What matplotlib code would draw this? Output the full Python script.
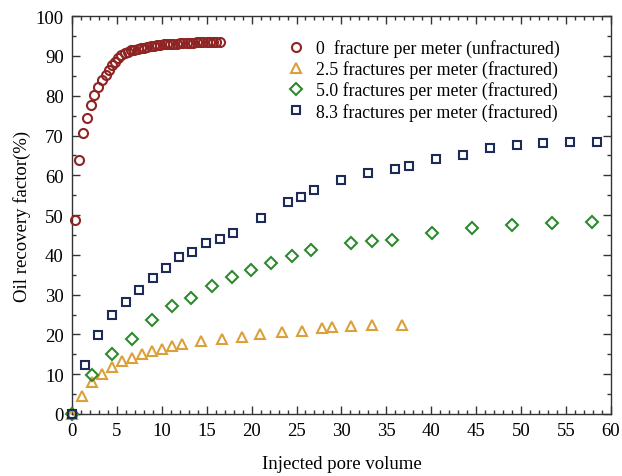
import matplotlib
matplotlib.use("Agg")
import matplotlib.pyplot as plt
from matplotlib.ticker import MultipleLocator

plt.rcParams['font.family'] = ['Liberation Serif', 'DejaVu Serif']
plt.rcParams['mathtext.fontset'] = 'stix'

# 0 fracture per meter (unfractured)
x_f0 = [0.0, 0.35, 0.81, 1.19, 1.63, 2.08, 2.45, 2.93, 3.3, 3.75, 4.12, 4.5, 4.8, 5.16, 5.5,
        5.9, 6.25, 6.6, 6.95, 7.3, 7.65, 8.0, 8.4, 8.75, 9.1, 9.5, 9.85, 10.2, 10.6,
        10.95, 11.3, 11.7, 12.05, 12.4, 12.8, 13.15, 13.5, 13.9, 14.25, 14.6, 15.0,
        15.35, 15.7, 16.05, 16.45]
y_f0 = [0.0, 48.8, 63.8, 70.6, 74.4, 77.7, 80.1, 82.3, 83.9, 85.2, 86.5, 87.8, 88.6, 89.4, 90.2,
        90.8, 91.1, 91.4, 91.6, 91.8, 92.0, 92.1, 92.3, 92.4, 92.5, 92.7, 92.8, 92.9, 93.0,
        93.0, 93.1, 93.1, 93.2, 93.2, 93.3, 93.3, 93.3, 93.4, 93.4, 93.4, 93.4,
        93.5, 93.5, 93.5, 93.5]

# 2.5 fractures per meter
x_f25 = [0.0, 1.08, 2.19, 3.3, 4.42, 5.53, 6.64, 7.76, 8.87, 9.99, 11.1, 12.2, 14.4, 16.7,
         18.9, 20.9, 23.4, 25.6, 27.8, 28.9, 31.1, 33.4, 36.7]
y_f25 = [0.0, 4.6, 8.1, 10.0, 11.7, 13.4, 14.1, 15.1, 15.9, 16.3, 17.2, 17.6, 18.3, 18.8,
         19.4, 20.1, 20.5, 20.8, 21.5, 21.8, 22.0, 22.4, 22.4]

# 5.0 fractures per meter
x_f50 = [0.0, 2.19, 4.42, 6.64, 8.87, 11.1, 13.3, 15.6, 17.8, 19.9, 22.2, 24.5, 26.6,
         31.1, 33.4, 35.6, 40.1, 44.5, 49.0, 53.4, 57.9]
y_f50 = [0.0, 9.8, 15.2, 18.8, 23.7, 27.1, 29.2, 32.2, 34.5, 36.3, 37.9, 39.6, 41.3,
         42.9, 43.5, 43.8, 45.4, 46.7, 47.6, 48.0, 48.2]

# 8.3 fractures per meter
x_f83 = [0.0, 1.45, 2.93, 4.42, 5.98, 7.46, 8.98, 10.47, 11.95, 13.4, 14.9, 16.5, 17.96,
         21.0, 24.05, 25.5, 27.0, 30.0, 33.0, 36.0, 37.5, 40.5, 43.5, 46.5, 49.5, 52.5,
         55.5, 58.5]
y_f83 = [0.0, 12.4, 19.9, 24.9, 28.1, 31.2, 34.3, 36.8, 39.4, 40.6, 42.9, 44.1, 45.5,
         49.2, 53.2, 54.5, 56.3, 58.9, 60.7, 61.7, 62.4, 64.1, 65.1, 66.8, 67.7, 68.1,
         68.3, 68.3]

labels = ["0  fracture per meter (unfractured)",
          "2.5 fractures per meter (fractured)",
          "5.0 fractures per meter (fractured)",
          "8.3 fractures per meter (fractured)"]

fig = plt.figure(figsize=(6.22, 4.77), dpi=100)
ax = fig.add_axes([0.1158, 0.130, 0.8662, 0.834])

ms = 6.5
mew = 1.5
ax.plot(x_f0, y_f0, linestyle='none', marker='o', ms=ms, mfc='none', mec='#8e2424',
        mew=mew, label=labels[0], clip_on=False, zorder=3)
ax.plot(x_f25, y_f25, linestyle='none', marker='^', ms=ms + 0.8, mfc='none', mec='#dca03a',
        mew=mew, label=labels[1], clip_on=False, zorder=3)
ax.plot(x_f50, y_f50, linestyle='none', marker='D', ms=ms - 0.6, mfc='none', mec='#2f8a2f',
        mew=mew, label=labels[2], clip_on=False, zorder=3)
ax.plot(x_f83, y_f83, linestyle='none', marker='s', ms=ms - 0.5, mfc='none', mec='#1c2b58',
        mew=mew, label=labels[3], clip_on=False, zorder=4)

ax.set_xlim(0, 60)
ax.set_ylim(0, 100)
ax.xaxis.set_major_locator(MultipleLocator(5))
ax.xaxis.set_minor_locator(MultipleLocator(1))
ax.yaxis.set_major_locator(MultipleLocator(10))
ax.yaxis.set_minor_locator(MultipleLocator(5))
ax.tick_params(which='both', direction='in', top=True, right=True, labelsize=13.5,
               width=1.0, color='#333333')
ax.tick_params(which='major', length=6)
ax.tick_params(which='minor', length=3)
ax.tick_params(axis='x', which='major', pad=6)
ax.tick_params(axis='y', which='major', pad=6)
for s in ax.spines.values():
    s.set_linewidth(1.0)
    s.set_color('#333333')

ax.set_xlabel("Injected pore volume", fontsize=13.5, labelpad=11)
ax.set_ylabel("Oil recovery factor(%)", fontsize=13.5, labelpad=3)

leg = ax.legend(loc='upper left', bbox_to_anchor=(0.385, 0.96), frameon=False, fontsize=12.8,
                handletextpad=0.55, labelspacing=0.18, handlelength=1.1, borderaxespad=0)

fig.savefig("out.png", dpi=100)
